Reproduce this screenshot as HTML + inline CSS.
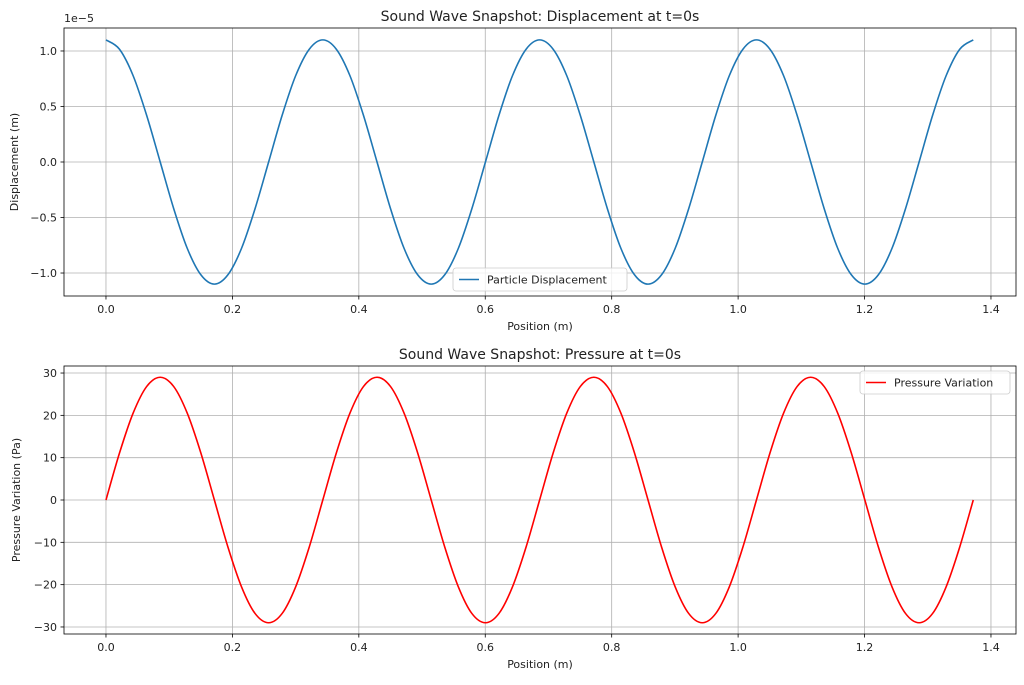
<!DOCTYPE html>
<html><head><meta charset="utf-8"><style>
body{margin:0;background:#fff}
svg text{font-family:"DejaVu Sans","Liberation Sans",sans-serif;fill:#222}
</style></head><body>
<svg id="fig" width="1024" height="680" xmlns="http://www.w3.org/2000/svg"></svg>
<script>
const positions=[0,0.0214,0.0429,0.0643,0.0858,0.1072,0.1286,0.1501,0.1715,0.1929,0.2144,0.2358,0.2573,0.2787,0.3001,0.3216,0.343,0.3644,0.3859,0.4073,0.4288,0.4502,0.4716,0.4931,0.5145,0.5359,0.5574,0.5788,0.6003,0.6217,0.6431,0.6646,0.686,0.7074,0.7289,0.7503,0.7718,0.7932,0.8146,0.8361,0.8575,0.8789,0.9004,0.9218,0.9433,0.9647,0.9861,1.0076,1.029,1.0504,1.0719,1.0933,1.1148,1.1362,1.1576,1.1791,1.2005,1.2219,1.2434,1.2648,1.2863,1.3077,1.3291,1.3506,1.372];
const displacement=[1.1,1.016,0.778,0.421,0,-0.421,-0.778,-1.016,-1.1,-1.016,-0.778,-0.421,0,0.421,0.778,1.016,
1.1,1.016,0.778,0.421,0,-0.421,-0.778,-1.016,-1.1,-1.016,-0.778,-0.421,0,0.421,0.778,1.016,
1.1,1.016,0.778,0.421,0,-0.421,-0.778,-1.016,-1.1,-1.016,-0.778,-0.421,0,0.421,0.778,1.016,
1.1,1.016,0.778,0.421,0,-0.421,-0.778,-1.016,-1.1,-1.016,-0.778,-0.421,0,0.421,0.778,1.016,1.1];
const pressure=[0,11.1,20.5,26.8,29,26.8,20.5,11.1,0,-11.1,-20.5,-26.8,-29,-26.8,-20.5,-11.1,
0,11.1,20.5,26.8,29,26.8,20.5,11.1,0,-11.1,-20.5,-26.8,-29,-26.8,-20.5,-11.1,
0,11.1,20.5,26.8,29,26.8,20.5,11.1,0,-11.1,-20.5,-26.8,-29,-26.8,-20.5,-11.1,
0,11.1,20.5,26.8,29,26.8,20.5,11.1,0,-11.1,-20.5,-26.8,-29,-26.8,-20.5,-11.1,0];
const xTicks=[0,0.2,0.4,0.6,0.8,1.0,1.2,1.4];
const xTickLabels=["0.0","0.2","0.4","0.6","0.8","1.0","1.2","1.4"];
const dispTicks=[-1,-0.5,0,0.5,1];
const dispTickLabels=["−1.0","−0.5","0.0","0.5","1.0"];
const presTicks=[-30,-20,-10,0,10,20,30];
const presTickLabels=["−30","−20","−10","0","10","20","30"];

const svg=document.getElementById('fig');
const NS='http://www.w3.org/2000/svg';
function mk(tag,attrs,parent,text){const e=document.createElementNS(NS,tag);for(const k in attrs)e.setAttribute(k,attrs[k]);if(text!==undefined)e.textContent=text;(parent||svg).appendChild(e);return e;}

function panel(cfg){
  const g=mk('g',{});
  
  
  const L=64,R=1016,T=cfg.top,B=cfg.bottom;
  const xmin=-0.0664,xmax=1.4396;
  const X=v=>L+(v-xmin)/(xmax-xmin)*(R-L);
  const Y=v=>B-(v-cfg.ymin)/(cfg.ymax-cfg.ymin)*(B-T);
  xTicks.forEach((t,i)=>{
    const l=mk('line',{x1:X(t),x2:X(t),y1:T,y2:B,stroke:'#b0b0b0','stroke-width':0.8},g);
    
    mk('line',{x1:X(t),x2:X(t),y1:B,y2:B+3.5,stroke:'#000','stroke-width':0.8},g);
    const tx=mk('text',{x:X(t),y:B+17,'text-anchor':'middle','font-size':11},g,xTickLabels[i]);
    
  });
  cfg.ticks.forEach((t,i)=>{
    const l=mk('line',{x1:L,x2:R,y1:Y(t),y2:Y(t),stroke:'#b0b0b0','stroke-width':0.8},g);
    
    mk('line',{x1:L-3.5,x2:L,y1:Y(t),y2:Y(t),stroke:'#000','stroke-width':0.8},g);
    const tx=mk('text',{x:L-7,y:Y(t)+4,'text-anchor':'end','font-size':11},g,cfg.tickLabels[i]);
    
  });
  const p=positions.map((x,i)=>[X(x),Y(cfg.values[i])]);
  let d='M'+p[0][0]+','+p[0][1];
  for(let i=0;i<p.length-1;i++){
    const p0=p[Math.max(0,i-1)],p1=p[i],p2=p[i+1],p3=p[Math.min(p.length-1,i+2)];
    d+=' C'+(p1[0]+(p2[0]-p0[0])/6)+','+(p1[1]+(p2[1]-p0[1])/6)+' '+(p2[0]-(p3[0]-p1[0])/6)+','+(p2[1]-(p3[1]-p1[1])/6)+' '+p2[0]+','+p2[1];
  }
  const path=mk('path',{d:d,fill:'none',stroke:cfg.color,'stroke-width':1.6},g);
  
  mk('rect',{x:L,y:T,width:R-L,height:B-T,fill:'none',stroke:'#000','stroke-width':0.8},g);
  const ti=mk('text',{x:(L+R)/2,y:T-7,'text-anchor':'middle','font-size':14},g,cfg.title);
  
  const xl=mk('text',{x:(L+R)/2,y:B+34,'text-anchor':'middle','font-size':11},g,'Position (m)');
  
  const yl=mk('text',{x:0,y:0,'text-anchor':'middle','font-size':11,transform:'translate('+cfg.ylabelX+','+((T+B)/2)+') rotate(-90)'},g,cfg.ylabel);
  
  const lg=mk('g',{},g);
  
  const lx=cfg.legend[0],ly=cfg.legend[1],lw=cfg.legend[2];
  mk('rect',{x:lx,y:ly,width:lw,height:23,rx:3,fill:'#fff','fill-opacity':0.8,stroke:'#ccc','stroke-width':0.8},lg);
  mk('line',{x1:lx+6,x2:lx+26,y1:ly+11.5,y2:ly+11.5,stroke:cfg.color,'stroke-width':1.5},lg);
  const lt=mk('text',{x:lx+34,y:ly+15.5,'font-size':11},lg,cfg.legendText);
  
  return g;
}
panel({name:'displacement-panel',top:28,bottom:296,ymin:-1.207,ymax:1.207,ticks:dispTicks,tickLabels:dispTickLabels,values:displacement,color:'#1f77b4',lineName:'displacement-line',title:'Sound Wave Snapshot: Displacement at t=0s',ylabel:'Displacement (m)',ylabelX:18,legend:[453,268,174],legendText:'Particle Displacement'});
const off=mk('text',{x:64,y:22,'font-size':11},svg,'1e−5');

panel({name:'pressure-panel',top:366,bottom:634,ymin:-31.66,ymax:31.66,ticks:presTicks,tickLabels:presTickLabels,values:pressure,color:'#ff0000',lineName:'pressure-line',title:'Sound Wave Snapshot: Pressure at t=0s',ylabel:'Pressure Variation (Pa)',ylabelX:20,legend:[860,371,150],legendText:'Pressure Variation'});
</script>
</body></html>
